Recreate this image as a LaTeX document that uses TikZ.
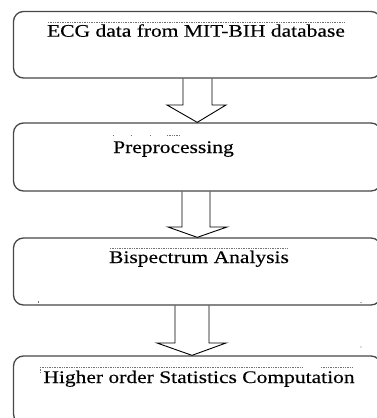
\documentclass[tikz,border=0pt]{standalone}
\usepackage{fontspec}
\setmainfont{Liberation Serif}
\newfontfamily\stagefont[FakeStretch=1.215,FakeBold=0.35]{Liberation Serif}
\begin{document}
\begin{tikzpicture}[x=1pt,y=-1pt,
  stage/.style={draw=black!72, line width=1.3pt, rounded corners=10pt,
    minimum width=367.5pt, inner sep=0pt},
  caption/.style={font=\stagefont\fontsize{17.7pt}{20pt}\selectfont,
    inner sep=0pt, anchor=base, text=black},
  flow/.style={draw=black, line width=0.9pt, line join=miter},
  trace/.style={draw=black!55, line width=0.8pt, dash pattern=on 0.8pt off 0.9pt}]
\useasboundingbox (0,0) rectangle (377,418);
\clip (0,0) rectangle (377,418);

% processing stages
\node[stage, minimum height=66.5pt] (b1) at (197.25,44.75) {};
\node[stage, minimum height=68pt]   (b2) at (197.25,157) {};
\node[stage, minimum height=67pt]   (b3) at (197.25,271.5) {};
\node[stage, minimum height=68pt]   (b4) at (197.25,390) {};

% stage titles
\node[caption] (t1) at (196,36.7) {ECG data from MIT-BIH database};
\node[caption] (t2) at (173.5,153) {Preprocessing};
\node[caption] (t3) at (199,263) {Bispectrum Analysis};
\node[caption] (t4) at (199,383) {Higher order Statistics Computation};

% hollow block arrows between the stages
\draw[flow] (183,0 |- b1.south) -- (183,105) -- (167,105) -- (b2.north)
  -- (226,105) -- (212,105) -- (212,0 |- b1.south);
\draw[flow] (182,0 |- b2.south) -- (182,227) -- (168,227) -- (b3.north)
  -- (227,227) -- (210,227) -- (210,0 |- b2.south);
\draw[flow] (175,0 |- b3.south) -- (175,343) -- (157,343) -- (192,0 |- b4.north)
  -- (226,343) -- (209,343) -- (209,0 |- b3.south);

% text-frame guides left over from the editor
\draw[trace] (48,22) -- (345,22);
\draw[trace] (112.5,135) -- (113.5,135);
\draw[trace] (130.5,135) -- (131.5,135);
\draw[trace] (149.5,135) -- (150.5,135);
\draw[trace] (167,135) -- (180,135);
\draw[trace] (110,248) -- (288,248);
\draw[trace] (40,367) -- (303,367);
\draw[trace] (321,367) -- (352,367);
\draw[trace] (40,367) -- (40,373);
\draw[trace] (38,300.5) -- (38,304);
\fill[black!60] (361,302.5) circle (0.6pt) (361,347) circle (0.6pt);
\end{tikzpicture}
\end{document}
